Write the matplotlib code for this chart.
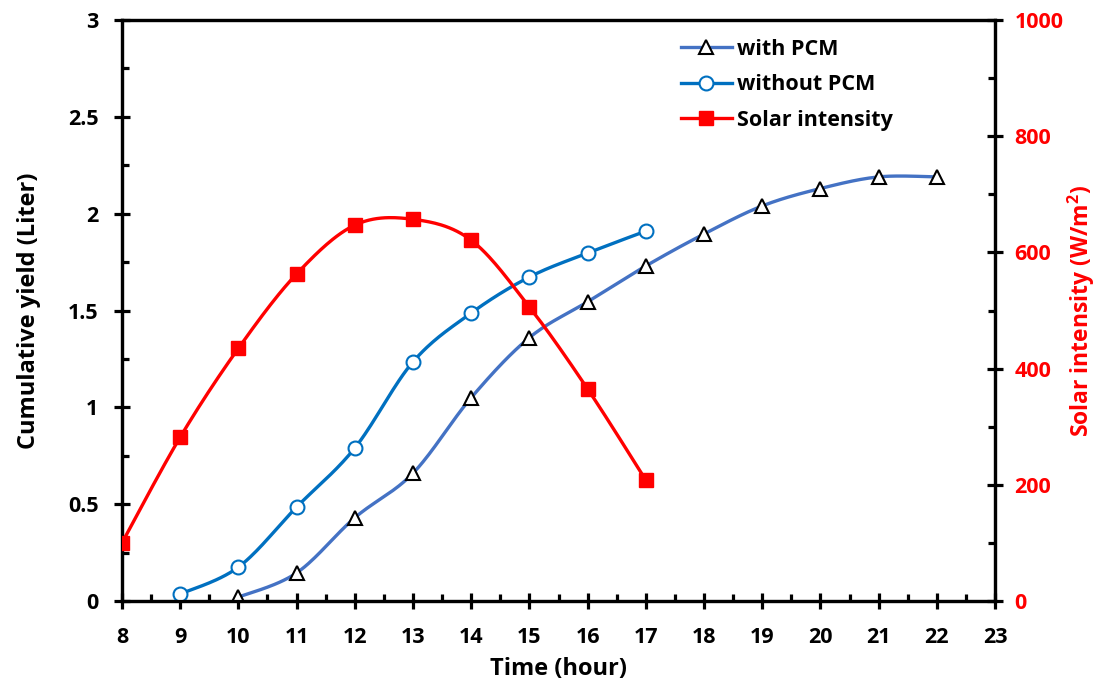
import matplotlib
matplotlib.use("Agg")
import matplotlib.pyplot as plt
import numpy as np
from matplotlib.ticker import MultipleLocator

plt.rcParams['font.family'] = ['Open Sans', 'DejaVu Sans']
plt.rcParams['font.weight'] = 'bold'
plt.rcParams['mathtext.fontset'] = 'custom'
plt.rcParams['mathtext.bf'] = 'Open Sans:bold'

# hourly readings
hours_pcm = [10, 11, 12, 13, 14, 15, 16, 17, 18, 19, 20, 21, 22]
yield_pcm = [0.02, 0.145, 0.43, 0.66, 1.05, 1.36, 1.545, 1.73, 1.895, 2.04, 2.13, 2.19, 2.19]

hours_nopcm = [9, 10, 11, 12, 13, 14, 15, 16, 17]
yield_nopcm = [0.036, 0.175, 0.485, 0.79, 1.235, 1.487, 1.673, 1.797, 1.91]

hours_solar = [8, 9, 10, 11, 12, 13, 14, 15, 16, 17]
solar = [100, 282, 435, 563, 647, 657, 621, 506, 365, 208]


def smooth(x, y, n=30):
    # Bezier smoothing through every point (control points at 1/6 of neighbour span)
    x = np.asarray(x, float)
    y = np.asarray(y, float)
    px = np.concatenate([[x[0]], x, [x[-1]]])
    py = np.concatenate([[y[0]], y, [y[-1]]])
    xs, ys = [], []
    t = np.linspace(0, 1, n)
    for i in range(1, len(px) - 2):
        p0 = np.array([px[i], py[i]])
        p3 = np.array([px[i + 1], py[i + 1]])
        c1 = p0 + (np.array([px[i + 1], py[i + 1]]) - np.array([px[i - 1], py[i - 1]])) / 6
        c2 = p3 - (np.array([px[i + 2], py[i + 2]]) - np.array([px[i], py[i]])) / 6
        b = ((1 - t) ** 3)[:, None] * p0 + (3 * (1 - t) ** 2 * t)[:, None] * c1 \
            + (3 * (1 - t) * t ** 2)[:, None] * c2 + (t ** 3)[:, None] * p3
        xs.append(b[:, 0])
        ys.append(b[:, 1])
    return np.concatenate(xs), np.concatenate(ys)


fig = plt.figure(figsize=(10.99, 6.86), dpi=100)
ax = fig.add_axes([0.111, 0.1239, 0.7944, 0.8469])
ax2 = ax.twinx()

c_pcm = '#4472C4'
c_nopcm = '#0070C0'
c_sun = '#FF0000'

sx, sy = smooth(hours_pcm, yield_pcm)
ax.plot(sx, sy, color=c_pcm, lw=2.4, zorder=2)
ax.plot(hours_pcm, yield_pcm, ls='none', marker='^', ms=10, mfc='white',
        mec='black', mew=1.5, zorder=3)

sx, sy = smooth(hours_nopcm, yield_nopcm)
ax.plot(sx, sy, color=c_nopcm, lw=2.4, zorder=2)
ax.plot(hours_nopcm, yield_nopcm, ls='none', marker='o', ms=10, mfc='white',
        mec=c_nopcm, mew=1.5, zorder=3)

sx, sy = smooth(hours_solar, solar)
ax2.plot(sx, sy, color=c_sun, lw=2.4, zorder=2)
ax2.plot(hours_solar, solar, ls='none', marker='s', ms=10.5, mfc=c_sun,
         mec=c_sun, zorder=3)

ax.set_xlim(8, 23)
ax.set_ylim(0, 3)
ax2.set_ylim(0, 1000)

ax.xaxis.set_major_locator(MultipleLocator(1))
ax.xaxis.set_minor_locator(MultipleLocator(0.5))
ax.yaxis.set_minor_locator(MultipleLocator(0.25))
ax2.yaxis.set_major_locator(MultipleLocator(200))
ax2.yaxis.set_minor_locator(MultipleLocator(100))

ax.set_yticks([0, 0.5, 1, 1.5, 2, 2.5, 3])
ax.set_yticklabels(['0', '0.5', '1', '1.5', '2', '2.5', '3'])

for a in (ax, ax2):
    for s in a.spines.values():
        s.set_linewidth(2.3)
ax.tick_params(axis='both', which='major', direction='inout', length=12,
               width=2.3, labelsize=15.5)
ax.tick_params(axis='both', which='minor', direction='in', length=5, width=2.3)
ax.tick_params(axis='x', which='major', pad=13)
ax.tick_params(axis='y', which='major', pad=11)
ax2.tick_params(axis='y', which='major', direction='inout', length=12,
                width=2.3, labelsize=15.5, labelcolor=c_sun, pad=8)
ax2.tick_params(axis='y', which='minor', direction='in', length=5, width=2.3)

ax.set_xlabel('Time (hour)', fontsize=17, fontweight='bold', labelpad=6)
ax.set_ylabel('Cumulative yield (Liter)', fontsize=17, fontweight='bold', labelpad=19)
ax2.set_ylabel('Solar intensity (W/m$\\mathbf{^2}$)', fontsize=16.5, fontweight='bold',
               color=c_sun, labelpad=2)

h1 = ax.plot([], [], color=c_pcm, lw=2.4, marker='^', ms=10, mfc='white', mec='black', mew=1.5)[0]
h2 = ax.plot([], [], color=c_nopcm, lw=2.4, marker='o', ms=10, mfc='white', mec=c_nopcm, mew=1.5)[0]
h3 = ax.plot([], [], color=c_sun, lw=2.4, marker='s', ms=10.5, mfc=c_sun, mec=c_sun)[0]
ax2.legend([h1, h2, h3], ['with PCM', 'without PCM', 'Solar intensity'],
           loc='upper left', bbox_to_anchor=(0.63, 0.983), frameon=False,
           fontsize=15.5, handlelength=2.4, handletextpad=0.2, labelspacing=0.68,
           borderaxespad=0)

fig.savefig('out.png', dpi=100)
